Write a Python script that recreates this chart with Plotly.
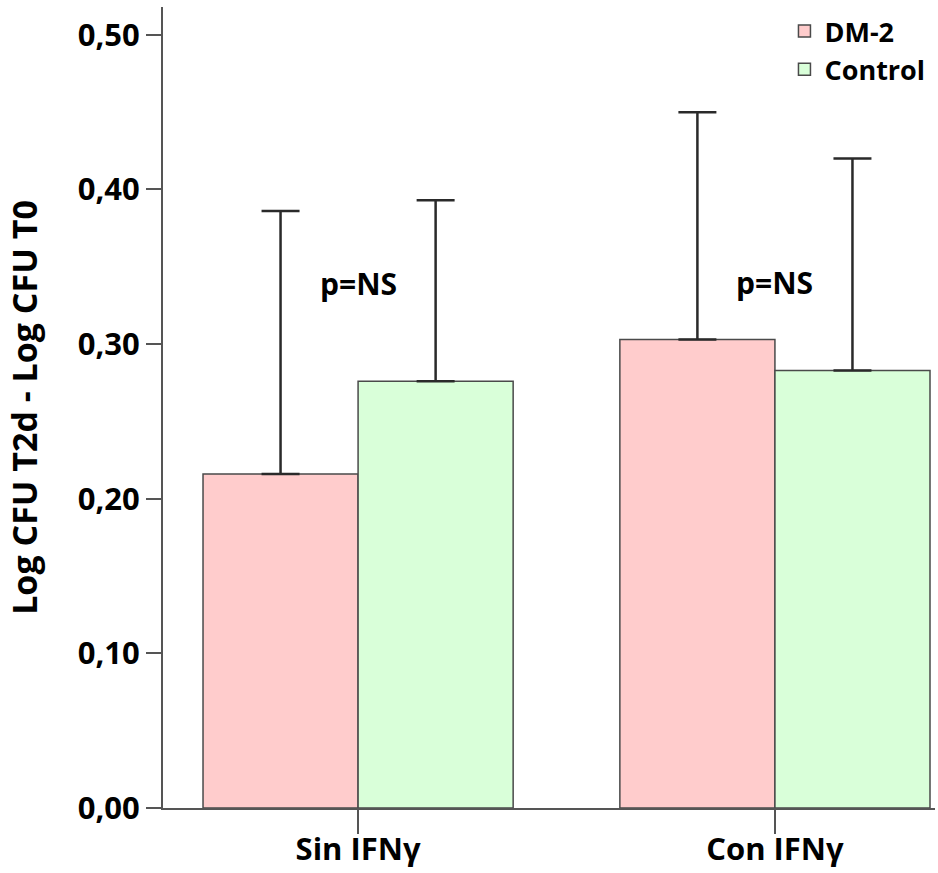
import plotly.graph_objects as go

# Groups and measured values
categories = ["Sin IFNγ", "Con IFNγ"]
dm2_means = [0.216, 0.303]
dm2_err = [0.170, 0.147]
control_means = [0.276, 0.283]
control_err = [0.117, 0.137]
y_ticks = [0.0, 0.1, 0.2, 0.3, 0.4, 0.5]
y_tick_text = ["0,00", "0,10", "0,20", "0,30", "0,40", "0,50"]
p_labels = ["p=NS", "p=NS"]
p_label_y = [0.339, 0.340]

FONT = "Open Sans"
AXIS_COLOR = "#555555"

fig = go.Figure()

err_style = dict(type="data", symmetric=False, thickness=2.5, width=19, color="#2a2a2a")

fig.add_trace(go.Bar(
    x=categories, y=dm2_means, name="DM-2",
    marker=dict(color="#FFCCCC", line=dict(color="#4a4a4a", width=1.5)),
    error_y=dict(array=dm2_err, arrayminus=[0, 0], **err_style),
))
fig.add_trace(go.Bar(
    x=categories, y=control_means, name="Control",
    marker=dict(color="#D9FFD9", line=dict(color="#4a4a4a", width=1.5)),
    error_y=dict(array=control_err, arrayminus=[0, 0], **err_style),
))

for cat, txt, yy in zip(categories, p_labels, p_label_y):
    fig.add_annotation(x=cat, y=yy, text=txt, showarrow=False,
                       font=dict(family=FONT, size=30, color="black", weight="bold"))

fig.update_layout(
    width=938, height=873,
    margin=dict(l=163, r=3, t=7, b=65),
    plot_bgcolor="white", paper_bgcolor="white",
    barmode="group", bargap=0.256, bargroupgap=0,
    font=dict(family=FONT, color="black"),
    showlegend=True,
    legend=dict(x=0.805, y=1.0, xanchor="left", yanchor="top",
                font=dict(family=FONT, size=27, color="black", weight="bold"),
                bgcolor="rgba(0,0,0,0)", itemwidth=30, tracegroupgap=0),
)

fig.update_xaxes(
    type="category", range=[-0.468, 1.384], automargin=False,
    showline=True, linecolor=AXIS_COLOR, linewidth=2,
    ticks="outside", ticklen=24, tickwidth=2, tickcolor=AXIS_COLOR,
    ticklabelstandoff=-11,
    tickfont=dict(family=FONT, size=31, color="black", weight="bold"),
    showgrid=False, zeroline=False,
)
fig.update_yaxes(
    range=[0, 0.518], automargin=False,
    tickvals=y_ticks, ticktext=y_tick_text,
    showline=True, linecolor=AXIS_COLOR, linewidth=2,
    ticks="outside", ticklen=15, tickwidth=2, tickcolor=AXIS_COLOR,
    tickfont=dict(family=FONT, size=31, color="black", weight="bold"),
    title=dict(text="Log CFU T2d - Log CFU T0", standoff=30,
               font=dict(family=FONT, size=34, color="black", weight="bold")),
    showgrid=False, zeroline=False,
)

fig.write_html("out.html")
